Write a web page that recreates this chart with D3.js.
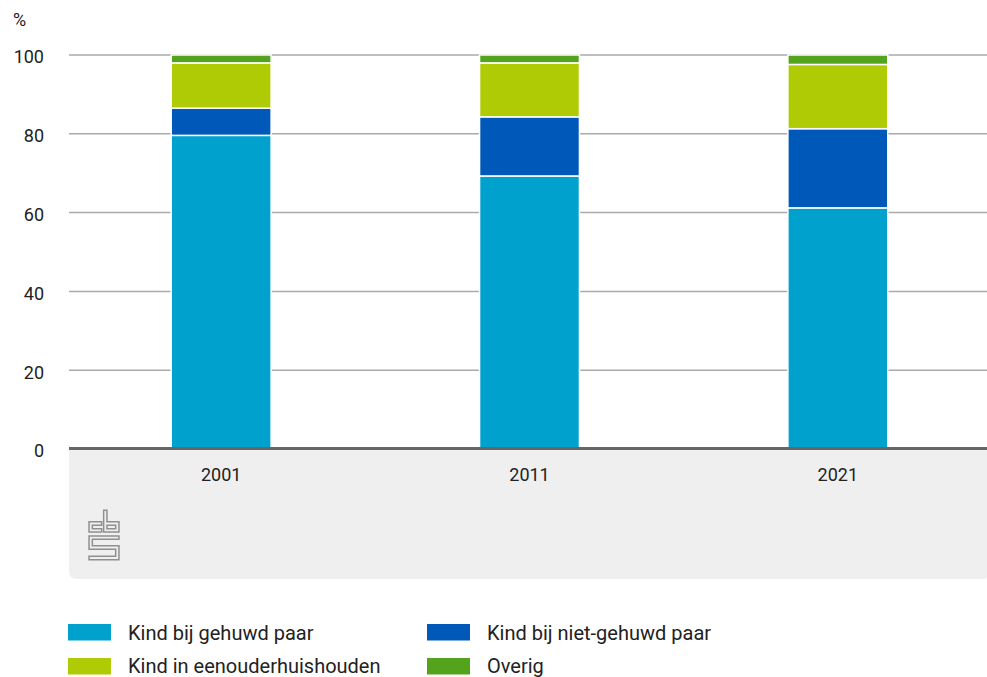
<!DOCTYPE html>
<html>
<head>
<meta charset="utf-8">
<script src="https://cdn.jsdelivr.net/npm/d3@7"></script>
<style>
  html, body { margin: 0; padding: 0; background: #fff; }
  svg { display: block; }
  text { font-family: Roboto, "Liberation Sans", sans-serif; fill: #222; }
</style>
</head>
<body>
<svg id="chart" width="987" height="677"></svg>
<script>
// ---- data ----
const years = ["2001", "2011", "2021"];
const seriesNames = ["Kind bij gehuwd paar", "Kind bij niet-gehuwd paar", "Kind in eenouderhuishouden", "Overig"];
const gehuwd = [79.6, 69.3, 61.2];
const nietGehuwd = [6.9, 15.0, 20.1];
const eenouder = [11.5, 13.7, 16.3];
const overig = [2.0, 2.0, 2.4];
const yTicks = [0, 20, 40, 60, 80, 100];
const colors = ["#00a1cd", "#0058b8", "#afcb05", "#53a31d"];

(function () {
const seriesValues = [gehuwd, nietGehuwd, eenouder, overig];
const table = years.map((yr, i) => {
  const row = { year: yr };
  seriesNames.forEach((s, j) => row[s] = seriesValues[j][i]);
  return row;
});

const svg = d3.select("#chart");
const pLeft = 69, pRight = 987, pTop = 55, pBottom = 449;

const x = d3.scaleBand().domain(years).range([67, 992]).paddingInner(0.676).paddingOuter(0.338);
const y = d3.scaleLinear().domain([0, 100]).range([pBottom, pTop]);

// gray panel under axis
const pb = 579, r1 = 8, r2 = 3;
svg.append("path")
  .attr("d", `M${pLeft},${pBottom} H${pRight} V${pb - r2} Q${pRight},${pb} ${pRight - r2},${pb} H${pLeft + r1} Q${pLeft},${pb} ${pLeft},${pb - r1} Z`)
  .attr("fill", "#efefef");

// gridlines
svg.append("g").selectAll("line").data(yTicks.filter(d => d > 0)).join("line")
  .attr("x1", pLeft).attr("x2", pRight)
  .attr("y1", d => y(d)).attr("y2", d => y(d))
  .attr("stroke", "#aaaaaa").attr("stroke-width", 1.5);

// y tick labels
svg.append("g").selectAll("text").data(yTicks).join("text")
  .attr("x", 44).attr("y", d => y(d) + 2)
  .attr("dy", "0.35em")
  .attr("text-anchor", "end")
  .attr("font-size", 18)
  .text(d => d);

svg.append("text").attr("x", 13).attr("y", 26).attr("font-size", 18).text("%");

// stacked bars
const stack = d3.stack().keys(seriesNames)(table);
svg.append("g").selectAll("g").data(stack).join("g")
  .attr("fill", (d, i) => colors[i])
  .selectAll("rect").data(d => d).join("rect")
  .attr("x", d => x(d.data.year))
  .attr("width", x.bandwidth())
  .attr("y", d => y(d[1]))
  .attr("height", d => y(d[0]) - y(d[1]))
  .attr("stroke", "#fff").attr("stroke-width", 1.5);

// axis line
svg.append("line").attr("x1", pLeft).attr("x2", pRight)
  .attr("y1", pBottom - 0.5).attr("y2", pBottom - 0.5)
  .attr("stroke", "#666").attr("stroke-width", 3);

// x labels
const xAxis = svg.append("g").attr("transform", `translate(0,${pBottom})`)
  .call(d3.axisBottom(x).tickSize(0).tickPadding(0));
xAxis.select(".domain").remove();
xAxis.selectAll("text")
  .attr("y", 32).attr("dy", 0)
  .attr("font-size", 18)
  .attr("font-family", "Roboto, 'Liberation Sans', sans-serif")
  .attr("fill", "#222");

// CBS logo
const logo = svg.append("g");
const logoPath = "M100,523.5 H90.7 V530.3 H100 M105.3,512 V530.3 H117.3 V523.5 H105.3 M117.3,537.7 H90.7 V547.5 H117.3 V558 H90.7";
logo.append("path").attr("d", logoPath).attr("fill", "none")
  .attr("stroke", "#8f8f8f").attr("stroke-width", 4.8).attr("stroke-linejoin", "miter").attr("stroke-linecap", "square");
logo.append("path").attr("d", logoPath).attr("fill", "none")
  .attr("stroke", "#efefef").attr("stroke-width", 1.8).attr("stroke-linejoin", "miter").attr("stroke-linecap", "square");

// legend
const legendPos = [[68, 624], [427, 624], [68, 658], [427, 658]];
const order = [0, 1, 2, 3];
const lg = svg.append("g").selectAll("g").data(order).join("g")
  .attr("transform", i => `translate(${legendPos[i][0]},${legendPos[i][1]})`);
lg.append("rect").attr("width", 43).attr("height", 16.5).attr("fill", i => colors[i]);
lg.append("text").attr("x", 60).attr("y", i => i < 2 ? 16 : 14.5).attr("font-size", 20).text(i => seriesNames[i]);
})();
</script>
</body>
</html>
